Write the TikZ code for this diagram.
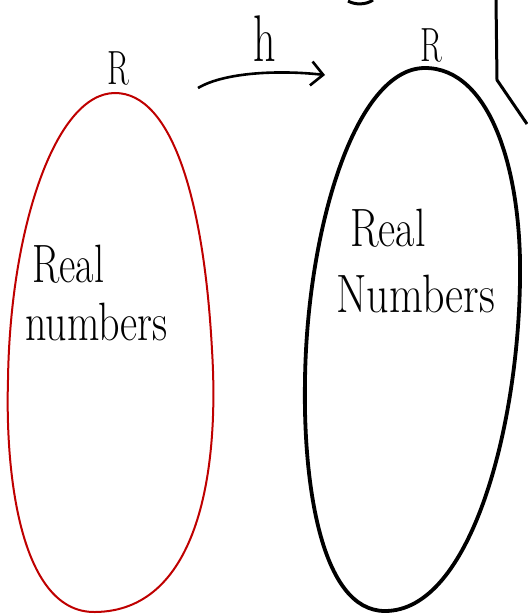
\documentclass[tikz,border=0pt]{standalone}
\usepackage{fontspec}
\usepackage{graphicx}
\usetikzlibrary{arrows.meta}
\newcommand{\tallx}[2]{\scalebox{#1}[1.35]{#2}}
\begin{document}
\begin{tikzpicture}[x=1pt,y=-1pt,
  settext/.style={font=\fontsize{40}{44}\selectfont, inner sep=0pt, anchor=base west},
  labtext/.style={font=\fontsize{32}{34}\selectfont, inner sep=0pt, anchor=base},
  redset/.style={draw=red!75!black, line width=2pt},
  blackset/.style={draw=black, line width=3.8pt},
  maparrow/.style={line width=2.6pt, -{Straight Barb[length=12pt,width=24pt,line width=2.6pt]}}]
\useasboundingbox (0,0) rectangle (527,615);
\fill[white] (0,0) rectangle (527,615);
% left set
\draw[redset] (115,93) .. controls (172,93) and (204,200) .. (212,350)
  .. controls (220,480) and (195,611) .. (95,612)
  .. controls (22,613) and (5,480) .. (8,380)
  .. controls (10,230) and (55,93) .. (115,93) -- cycle;
% right set
\draw[blackset] (425,68) .. controls (490,68) and (522,170) .. (520,280)
  .. controls (518,430) and (470,611) .. (385,611)
  .. controls (320,611) and (303,480) .. (305,380)
  .. controls (307,230) and (355,68) .. (425,68) -- cycle;
% texts
\node[settext] (lt1) at (32,282) {\tallx{1}{Real}};
\node[settext] (lt2) at (25,340) {\tallx{1.05}{numbers}};
\node[settext] (rt1) at (350,246) {\tallx{1.05}{Real}};
\node[settext] (rt2) at (336,312) {\tallx{1.1}{Numbers}};
\node[labtext] (rl) at (118,85) {\scalebox{1}[1.5]{R}};
\node[labtext] (rr) at (431,62) {\scalebox{1}[1.5]{R}};
\coordinate (as) at (198,88);
\coordinate (ae) at (325,75);
\draw[maparrow] (as) .. controls (225,72) and (280,70) .. (ae);
\node[font=\fontsize{44}{46}\selectfont, inner sep=0pt, anchor=base] (hl) at (265,62) {\scalebox{1}[1.5]{h}};
% partial strokes at the top edge
\draw[line width=3pt] (496,0) -- (497,80) -- (527,124);
\draw[line width=3pt] (348,1) .. controls (355,5) and (366,5) .. (373,0);
\end{tikzpicture}
\end{document}
